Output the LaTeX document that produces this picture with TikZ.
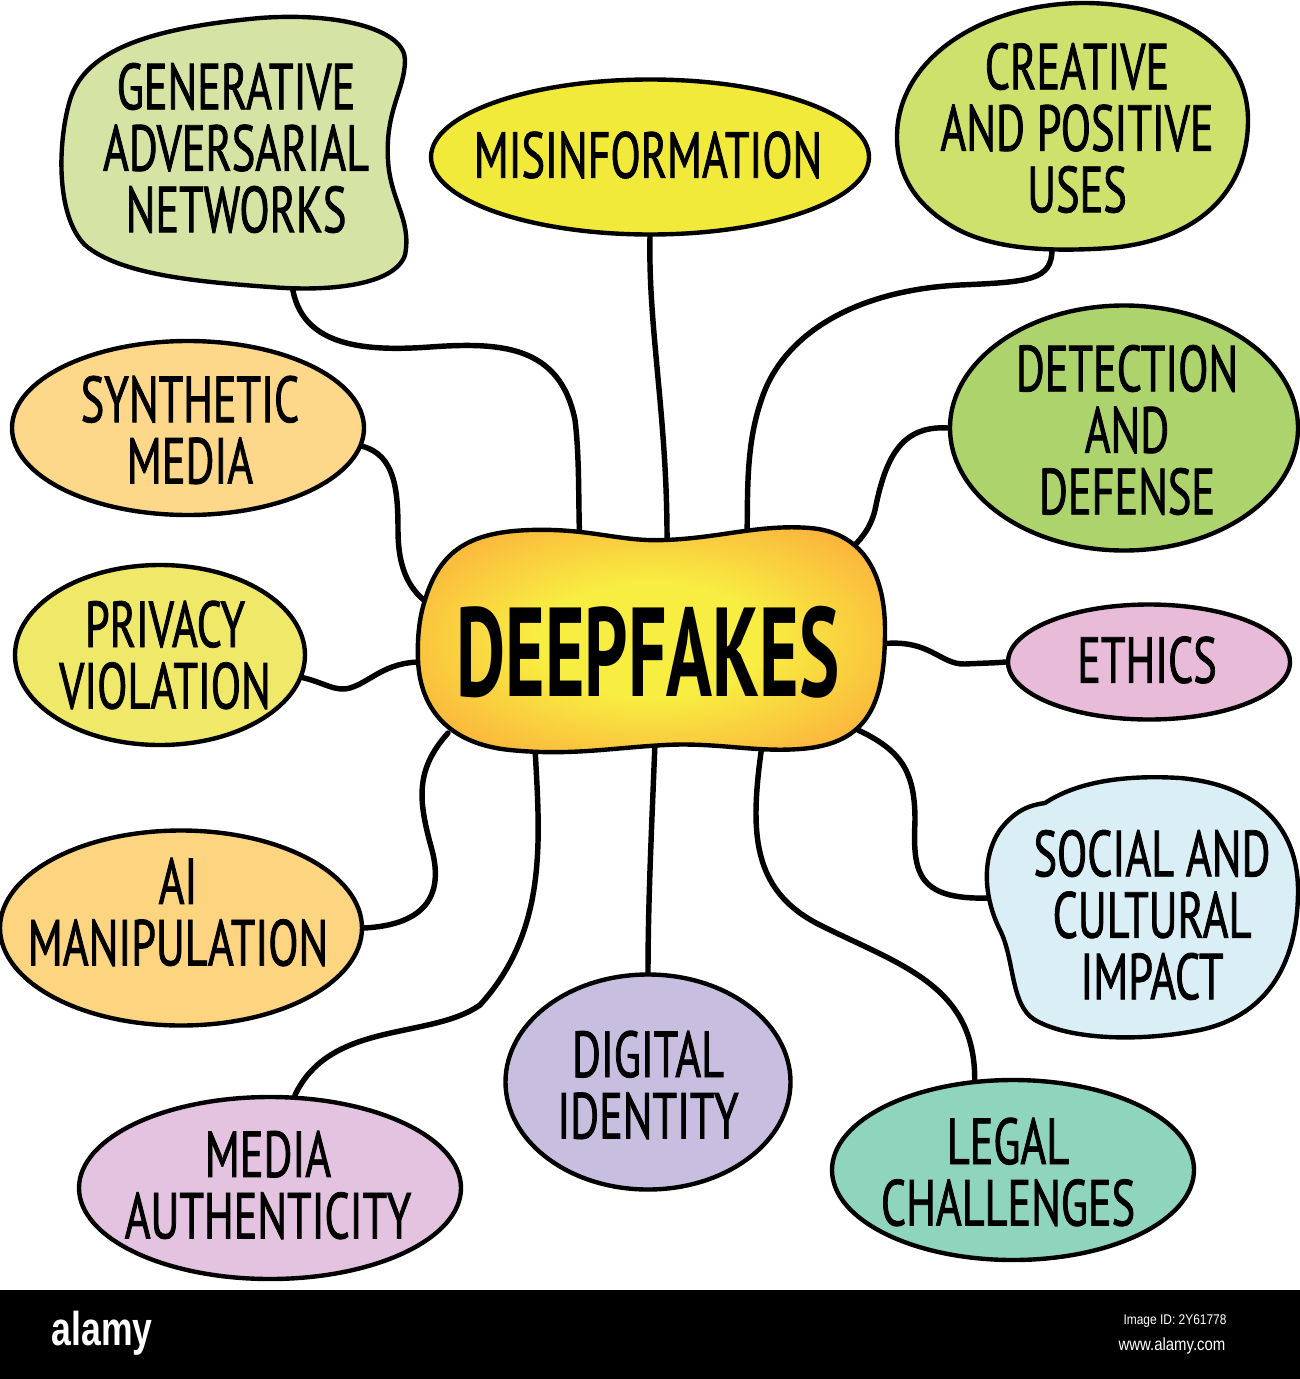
\documentclass[tikz,border=0pt]{standalone}
\usepackage{fontspec}
\usetikzlibrary{shapes.geometric}
\newfontfamily\hand{PT Sans}[FakeStretch=0.68,FakeBold=1.2]
\newfontfamily\handbig{PT Sans}[FakeStretch=0.6]
\newfontfamily\wmfont{Liberation Sans}[FakeStretch=0.75]
\newfontfamily\wmsmall{Liberation Sans}[FakeStretch=0.85]
\definecolor{cgan}{HTML}{D5E4A5}
\definecolor{cmis}{HTML}{F2EA3A}
\definecolor{ccre}{HTML}{CFE16D}
\definecolor{csyn}{HTML}{FDD88A}
\definecolor{cdet}{HTML}{ACD36C}
\definecolor{cpri}{HTML}{EFE868}
\definecolor{ceth}{HTML}{E8BBD8}
\definecolor{cai}{HTML}{FDD47F}
\definecolor{csoc}{HTML}{DAEEF6}
\definecolor{cdig}{HTML}{C8BFE0}
\definecolor{cmed}{HTML}{E3C3DF}
\definecolor{cleg}{HTML}{8FD4BD}
\definecolor{dfin}{HTML}{F8EE42}
\definecolor{dfout}{HTML}{FBB43C}
\pgfdeclareradialshading{deepsh}{\pgfpoint{0bp}{0bp}}{color(0bp)=(dfin); color(12bp)=(dfin); color(30bp)=(dfout); color(50bp)=(dfout)}
\pgfdeclarelayer{bg}
\pgfsetlayers{bg,main}
\tikzset{
  bubble/.style={ellipse, draw=black, line width=2.5pt, inner sep=0pt},
  bsize/.style 2 args={minimum width=#1*0.02cm, minimum height=#2*0.02cm},
  blob/.style={draw=black, line width=2.5pt, line join=round},
  lbl/.style={font=\hand\fontsize{37}{35}\selectfont, align=center, inner sep=0pt},
  biglbl/.style={font=\handbig\bfseries\fontsize{72}{72}\selectfont, align=center, inner sep=0pt},
  link/.style={draw=black, line width=3.1pt, line cap=round}
}
\begin{document}
\begin{tikzpicture}[x=0.02cm,y=-0.02cm]
\useasboundingbox (0,0) rectangle (1300,1379);
\begin{pgfonlayer}{bg}
\fill[white] (0,0) rectangle (1300,1379);
\end{pgfonlayer}

% ---- irregular blobs ----
\path[blob, fill=cgan] (70,100) .. controls (85,50) and (150,28) .. (260,18) .. controls (340,12) and (405,30) .. (405,60) .. controls (405,90) and (385,110) .. (388,160) .. controls (390,200) and (412,220) .. (405,255) .. controls (395,285) and (330,292) .. (270,287) .. controls (200,282) and (120,275) .. (85,245) .. controls (55,215) and (58,140) .. (70,100) -- cycle;
\path[blob, fill=ccre] (897,140) .. controls (895,60) and (980,5) .. (1080,3) .. controls (1180,2) and (1248,50) .. (1248,120) .. controls (1248,190) and (1200,240) .. (1110,248) .. controls (1050,252) and (990,250) .. (950,225) .. controls (910,200) and (898,170) .. (897,140) -- cycle;
\path[blob, fill=csoc] (1045,803) .. controls (1080,780) and (1130,775) .. (1180,778) .. controls (1260,785) and (1298,830) .. (1298,890) .. controls (1298,960) and (1270,1015) .. (1200,1030) .. controls (1140,1042) and (1070,1040) .. (1035,1020) .. controls (1010,1005) and (1015,960) .. (1000,930) .. controls (985,900) and (980,860) .. (1000,830) .. controls (1015,810) and (1030,805) .. (1045,803) -- cycle;
\path[blob, shading=deepsh] (425,600) .. controls (440,550) and (470,532) .. (530,530) .. controls (590,528) and (620,542) .. (665,540) .. controls (720,538) and (760,524) .. (810,528) .. controls (860,532) and (885,570) .. (885,630) .. controls (885,700) and (870,740) .. (810,748) .. controls (760,754) and (720,742) .. (665,745) .. controls (610,748) and (570,756) .. (510,750) .. controls (450,744) and (420,710) .. (418,660) .. controls (417,635) and (420,615) .. (425,600) -- cycle;

% ---- attachment points on blobs ----
\coordinate (ganb) at (292,285);
\coordinate (creb) at (1052,249);
\coordinate (socb) at (988,898);
\coordinate (dGan) at (580,545);
\coordinate (dMis) at (667,548);
\coordinate (dCre) at (747,540);
\coordinate (dDet) at (848,552);
\coordinate (dSyn) at (432,606);
\coordinate (dPri) at (421,662);
\coordinate (dEth) at (880,644);
\coordinate (dAi) at (448,733);
\coordinate (dMed) at (535,748);
\coordinate (dDig) at (655,742);
\coordinate (dLeg) at (762,745);
\coordinate (dSoc) at (858,730);

% ---- elliptical bubbles ----
\node[bubble, bsize={438}{155}, fill=cmis] (mis) at (650,157) {};
\node[bubble, bsize={352}{174}, fill=csyn] (syn) at (188,428) {};
\node[bubble, bsize={348}{245}, fill=cdet] (det) at (1124,428) {};
\node[bubble, bsize={290}{180}, fill=cpri] (pri) at (160,655) {};
\node[bubble, bsize={282}{115}, fill=ceth] (eth) at (1149,662) {};
\node[bubble, bsize={362}{195}, fill=cai] (ai) at (181,928) {};
\node[bubble, bsize={285}{215}, fill=cdig] (dig) at (648,1082) {};
\node[bubble, bsize={382}{182}, fill=cmed] (med) at (270,1188) {};
\node[bubble, bsize={362}{180}, fill=cleg] (leg) at (1013,1170) {};

% ---- labels ----
\node[lbl] (tgan) at (236,148) {GENERATIVE\\ADVERSARIAL\\NETWORKS};
\node[lbl] (tmis) at (648,155) {MISINFORMATION};
\node[lbl] (tcre) at (1077,128) {CREATIVE\\AND POSITIVE\\USES};
\node[lbl] (tsyn) at (190,430) {SYNTHETIC\\MEDIA};
\node[lbl] (tdet) at (1127,430) {DETECTION\\AND\\DEFENSE};
\node[biglbl] (tdeep) at (648,652) {DEEPFAKES};
\node[lbl] (tpri) at (165,655) {PRIVACY\\VIOLATION};
\node[lbl] (teth) at (1147,660) {ETHICS};
\node[lbl] (tai) at (178,912) {AI\\MANIPULATION};
\node[lbl] (tsoc) at (1152,915) {SOCIAL AND\\CULTURAL\\IMPACT};
\node[lbl] (tdig) at (648,1085) {DIGITAL\\IDENTITY};
\node[lbl] (tmed) at (268,1185) {MEDIA\\AUTHENTICITY};
\node[lbl] (tleg) at (1008,1172) {LEGAL\\CHALLENGES};

% ---- connectors ----
\begin{pgfonlayer}{bg}
\draw[link] (ganb) .. controls (300,345) and (360,352) .. (430,347) .. controls (500,342) and (560,345) .. (575,420) .. controls (580,460) and (578,510) .. (dGan);
\draw[link] (mis.south) .. controls (648,330) and (668,420) .. (dMis);
\draw[link] (creb) .. controls (1052,280) and (1030,282) .. (960,285) .. controls (860,290) and (790,330) .. (765,390) .. controls (745,440) and (748,490) .. (dCre);
\draw[link] (det.west) .. controls (900,425) and (885,460) .. (875,510) .. controls (870,530) and (860,540) .. (dDet);
\draw[link] (syn.-6) .. controls (395,455) and (398,490) .. (398,530) .. controls (398,570) and (410,592) .. (dSyn);
\draw[link] (pri.-9) .. controls (325,683) and (335,692) .. (350,688) .. controls (370,682) and (385,662) .. (dPri);
\draw[link] (dEth) .. controls (930,638) and (940,665) .. (965,664) .. controls (985,663) and (995,663) .. (eth.west);
\draw[link] (dAi) .. controls (415,770) and (418,800) .. (432,850) .. controls (445,900) and (420,925) .. (ai.east);
\draw[link] (dMed) .. controls (540,840) and (548,930) .. (480,1005) .. controls (430,1040) and (330,1020) .. (med.75);
\draw[link] (dDig) .. controls (652,820) and (648,900) .. (dig.north);
\draw[link] (dLeg) .. controls (750,830) and (750,890) .. (820,925) .. controls (900,965) and (975,985) .. (leg.113);
\draw[link] (dSoc) .. controls (900,750) and (915,770) .. (915,820) .. controls (913,870) and (915,900) .. (socb);
\end{pgfonlayer}

% ---- bottom bar ----
\fill[black] (0,1290) rectangle (1300,1379);
\node[font=\wmfont\bfseries\fontsize{27}{27}\selectfont, text=white, inner sep=0pt] (wm) at (102,1333) {alamy};
\node[font=\wmsmall\fontsize{8}{8}\selectfont, text=white, inner sep=0pt] (wmid) at (1175,1321) {Image ID: 2Y61778};
\node[font=\wmsmall\fontsize{10}{10}\selectfont, text=white, inner sep=0pt] (wmurl) at (1172,1346) {www.alamy.com};
\end{tikzpicture}
\end{document}
